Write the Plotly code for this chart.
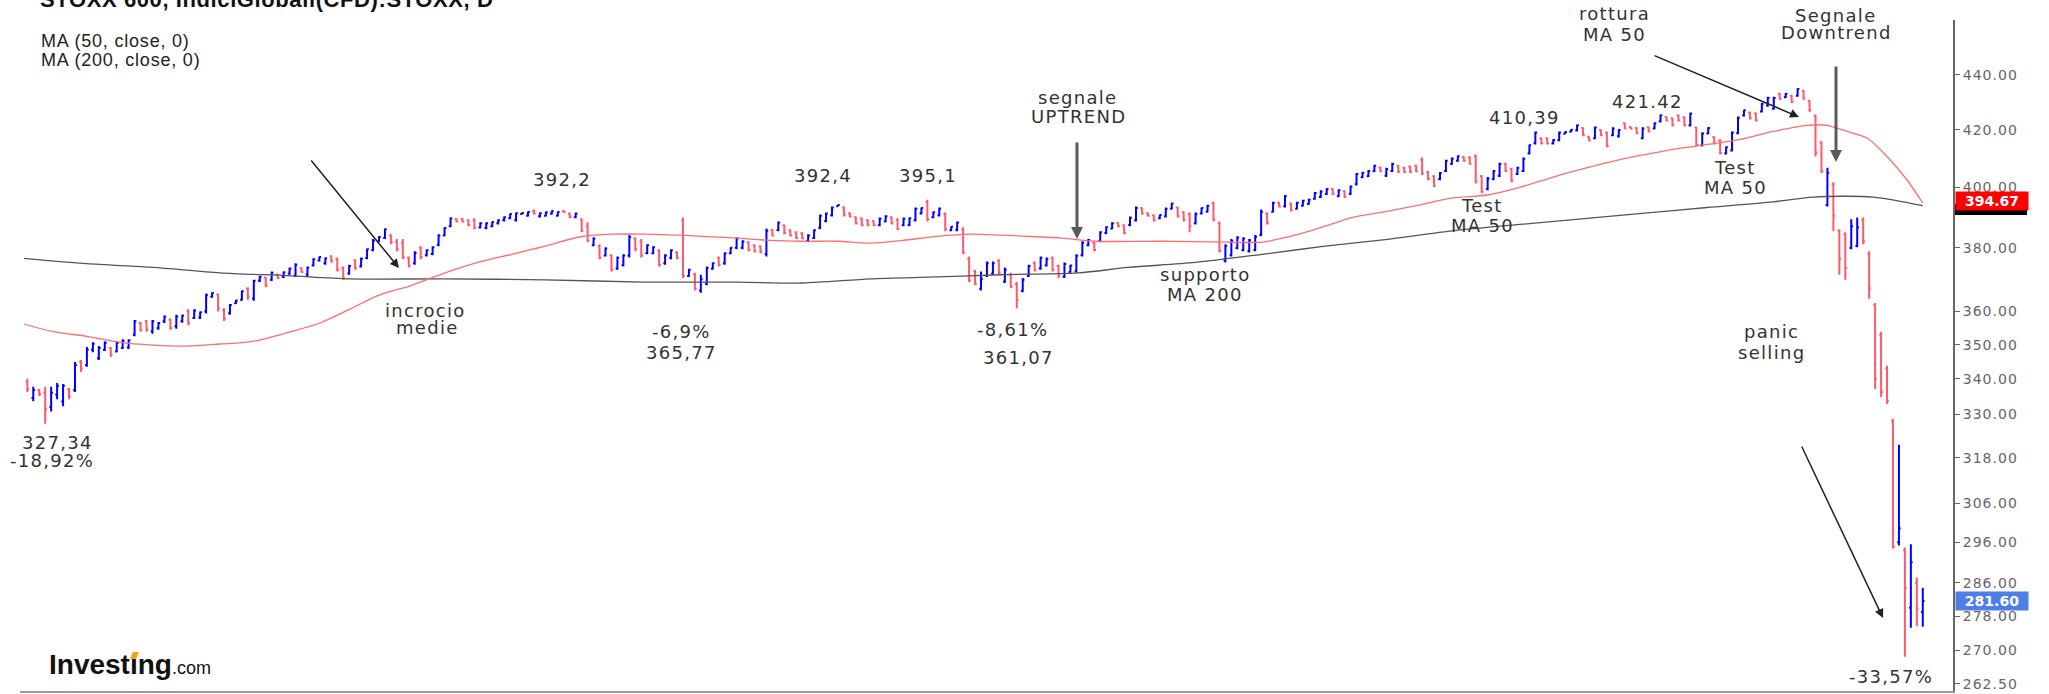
import math
import plotly.graph_objects as go

# ---------------- data ----------------
opens = [339.2,334.5,336.8,336.0,332.0,335.5,333.5,337.0,336.8,345.0,
344.0,348.5,346.0,348.5,349.0,348.0,349.0,349.2,353.0,356.5,
357.0,354.0,355.0,357.0,357.5,355.5,357.0,360.2,358.0,358.2,
360.0,364.5,365.2,360.5,359.5,362.5,363.6,367.0,364.0,369.5,
370.5,369.8,371.5,370.8,371.7,371.2,373.5,371.5,374.3,375.9,
375.0,377.3,376.5,373.5,371.8,376.0,374.0,376.7,379.3,382.0,
383.2,384.0,382.0,381.5,376.8,375.0,380.0,377.6,378.0,381.0,
384.0,387.0,389.4,389.4,389.0,389.0,386.6,386.4,387.0,388.0,
389.0,389.6,389.0,391.0,390.5,392.0,390.3,390.5,391.1,390.5,
392.0,391.2,390.0,389.2,387.0,380.8,380.5,377.5,377.5,373.4,
374.4,377.5,383.0,382.0,378.3,378.2,379.0,375.0,376.7,378.5,
389.0,371.0,371.5,366.5,368.6,373.3,376.8,375.0,378.2,380.0,
380.0,381.8,380.8,380.5,378.0,385.8,385.8,387.3,385.7,385.0,
384.7,382.2,383.2,386.5,388.7,390.6,393.6,393.2,391.3,390.0,
389.6,389.0,388.7,387.3,388.6,390.0,389.2,387.3,387.4,389.0,
391.2,395.0,390.0,390.6,391.0,385.7,385.8,386.0,376.5,372.5,
367.0,371.2,371.8,375.8,369.3,371.5,368.5,366.3,371.0,375.2,
373.4,374.3,376.8,374.2,370.8,372.3,372.5,377.6,380.8,381.5,
382.2,384.8,386.3,388.1,387.3,387.4,389.0,393.0,391.3,390.6,
389.6,390.3,392.8,393.2,391.6,391.0,388.0,391.2,391.8,394.7,
388.0,375.8,377.6,379.9,379.3,378.9,379.3,384.2,391.2,391.8,
394.9,393.6,394.5,392.8,393.8,394.4,396.1,396.7,397.7,399.4,
397.0,398.7,397.8,401.0,403.4,403.8,405.5,406.8,403.9,405.6,
407.4,406.7,407.1,407.4,409.5,405.3,403.8,402.8,405.6,408.0,
409.1,410.4,410.3,410.8,403.8,399.4,402.8,403.9,408.1,406.3,
404.5,405.6,411.6,415.2,417.0,417.0,415.1,416.3,418.6,419.3,
419.8,420.6,417.5,417.0,419.9,419.0,418.1,417.7,422.3,421.0,
420.6,417.0,420.9,420.5,423.0,424.6,424.1,425.2,424.5,421.6,
420.8,414.5,418.7,417.4,416.2,411.6,412.7,418.8,425.1,426.2,
425.9,426.6,428.7,427.6,433.0,431.8,432.3,432.3,434.1,430.5,
425.0,415.5,394.0,401.0,385.5,384.5,380.0,380.6,389.0,378.0,
362.0,353.0,343.0,328.0,296.0,294.0,280.0,286.0,279.0]

highs = [340.0,337.7,337.1,337.7,337.7,338.8,338.5,337.4,344.9,345.5,
349.3,350.7,349.6,351.0,349.3,351.0,351.6,351.6,357.4,356.8,
357.4,357.4,356.8,358.8,357.9,359.0,359.0,360.7,360.7,360.0,
365.5,365.9,365.5,361.0,362.3,363.6,366.5,367.5,369.8,371.1,
370.7,372.4,371.7,372.4,373.7,375.0,373.7,374.0,376.6,377.2,
376.9,377.6,376.9,374.0,374.6,376.3,376.9,379.8,382.8,383.7,
386.3,384.4,382.8,382.8,377.2,378.9,380.5,379.5,380.5,384.4,
386.7,389.9,389.6,389.6,389.3,389.6,388.3,388.3,388.6,389.3,
390.2,391.2,391.5,391.5,391.9,392.5,391.5,391.9,392.2,391.9,
392.2,391.5,391.5,389.6,388.3,383.4,381.1,380.2,377.9,377.2,
377.9,384.1,383.4,382.8,381.1,380.5,379.5,377.9,379.5,378.9,
389.9,373.3,372.0,371.4,374.0,375.3,377.2,378.5,380.2,383.4,
382.4,382.1,381.1,380.8,386.3,386.0,388.6,387.6,386.0,385.4,
385.0,384.4,386.0,390.9,391.5,393.5,394.1,393.5,391.5,390.2,
389.9,389.3,388.9,389.9,390.6,390.2,389.6,389.9,389.9,393.2,
393.2,395.8,391.9,393.2,391.5,387.0,388.6,386.7,377.2,373.0,
372.4,375.6,375.6,376.3,373.7,372.0,369.1,370.4,374.6,375.6,
377.2,376.9,377.2,374.6,375.3,374.6,377.9,382.1,382.8,381.8,
385.4,387.0,388.3,388.3,387.6,390.2,393.5,393.2,391.5,390.9,
390.9,393.2,394.8,393.5,391.9,391.5,391.5,393.2,394.1,395.1,
388.6,381.1,382.8,383.7,383.4,382.8,384.1,392.5,391.5,395.1,
395.1,397.4,394.8,395.1,395.8,396.1,398.4,399.0,399.7,399.7,
399.3,399.0,400.6,404.9,405.2,405.9,407.7,407.0,406.7,408.4,
407.7,407.0,407.4,407.7,410.2,405.6,404.2,405.2,409.5,410.2,
410.9,410.6,410.6,411.3,404.2,403.5,405.9,408.4,408.4,406.7,
407.0,410.2,414.8,419.4,417.3,417.3,416.6,419.4,419.4,420.2,
421.9,420.9,417.7,421.2,420.2,419.4,420.9,420.2,422.6,421.2,
420.9,420.9,421.2,422.6,425.5,424.8,424.4,425.5,424.8,426.2,
421.2,419.1,420.9,417.7,416.6,414.1,419.4,424.8,427.2,426.5,
426.2,429.7,431.9,431.9,433.3,433.3,432.6,435.1,434.4,430.8,
425.5,415.9,406.7,401.7,386.0,385.0,389.3,389.9,389.9,378.9,
362.6,353.9,343.8,328.7,321.5,294.7,295.5,287.3,284.8]

lows = [336.2,333.6,335.1,327.3,330.7,334.2,332.2,334.2,336.2,342.0,
343.5,347.8,345.5,348.1,346.4,347.8,348.7,348.7,352.5,353.9,
353.9,353.3,354.5,356.5,354.5,354.8,356.6,355.8,357.7,357.7,
359.4,364.2,360.0,357.1,359.0,362.3,363.3,363.6,363.3,369.1,
367.5,369.4,370.1,370.4,371.4,370.7,372.0,370.7,374.0,375.6,
374.6,375.3,372.4,369.8,371.4,373.0,373.7,376.3,378.9,381.8,
382.8,381.1,378.9,376.3,373.7,374.6,376.3,377.2,377.6,380.5,
383.7,386.7,388.3,388.3,387.0,386.0,386.3,386.0,386.7,387.6,
388.6,389.3,388.6,390.9,390.2,390.9,389.9,390.2,390.9,390.2,
391.5,389.6,389.6,385.0,381.8,380.5,376.3,377.2,372.4,373.0,
374.0,376.9,378.9,376.9,377.9,377.9,374.0,374.6,376.3,376.3,
370.4,370.7,366.5,365.8,368.1,373.0,374.0,374.6,377.9,379.5,
379.5,378.9,378.5,378.2,377.2,383.7,385.4,384.4,383.7,382.8,
382.8,381.8,382.8,386.0,388.3,390.2,393.5,390.2,389.9,387.6,
387.0,387.0,387.0,387.0,388.3,387.6,385.7,387.0,387.0,388.6,
390.9,388.6,389.6,390.2,385.4,385.4,385.4,377.9,369.1,368.1,
366.5,370.7,371.4,371.4,368.8,367.2,361.0,365.9,370.7,372.4,
373.0,374.0,372.4,370.4,370.4,372.0,372.0,377.2,380.5,378.9,
381.8,384.4,386.0,386.7,384.4,387.0,388.6,390.9,390.2,388.6,
389.3,389.9,392.5,389.9,388.6,385.0,387.6,390.9,391.5,388.6,
378.5,375.3,377.2,379.5,378.9,378.5,378.9,383.7,387.6,391.5,
393.2,393.2,391.9,392.5,393.5,394.1,395.8,396.4,397.4,397.4,
396.7,396.4,397.4,400.6,403.1,403.5,405.2,405.2,403.5,405.2,
404.9,404.9,404.9,405.2,404.2,402.4,400.0,402.4,405.2,407.7,
408.8,408.8,407.7,401.3,398.0,399.0,402.4,403.5,405.2,401.7,
404.2,405.2,411.3,414.8,414.8,414.8,414.8,415.9,418.4,419.1,
419.4,417.7,415.9,416.6,417.7,413.8,417.7,417.3,420.2,420.2,
418.4,416.6,419.1,420.2,422.6,423.0,421.2,423.0,421.2,421.2,
414.1,414.1,418.4,414.8,411.3,411.3,412.3,418.4,424.8,423.7,
423.0,426.2,428.3,427.2,430.8,431.5,429.7,431.9,430.8,426.5,
410.6,404.9,393.5,385.4,371.4,369.8,379.5,380.2,381.1,363.9,
337.1,334.8,332.8,294.4,295.2,268.6,275.3,275.7,275.5]

closes = [337.1,336.8,335.6,331.5,336.0,338.0,338.0,335.0,344.0,343.0,
348.5,350.3,349.0,350.5,347.0,350.5,351.2,351.3,357.0,354.5,
354.5,357.0,356.5,358.5,355.0,358.5,358.8,356.5,360.3,359.8,
365.0,365.7,361.0,357.8,362.0,363.4,366.2,364.5,369.5,370.8,
368.0,372.0,370.4,372.2,373.4,374.6,372.3,373.7,376.3,377.0,
376.6,375.7,373.0,370.3,374.2,373.5,376.5,379.5,382.3,383.5,
386.0,381.8,379.5,377.0,374.3,378.3,377.0,379.2,380.2,384.0,
386.4,389.6,388.6,388.5,387.4,386.5,388.0,388.0,388.4,389.0,
390.0,391.0,391.3,391.4,391.7,391.2,391.3,391.6,392.0,391.7,
391.6,390.0,391.2,385.6,382.3,383.0,376.8,379.8,373.0,376.8,
377.5,383.5,379.5,377.5,380.8,380.2,374.6,377.5,379.2,376.8,
371.0,373.0,367.0,370.0,373.5,375.0,374.5,378.2,380.0,383.0,
382.0,379.3,378.9,378.6,385.5,384.0,388.2,384.8,384.0,383.2,
383.0,384.0,385.7,390.5,391.2,393.2,394.0,390.6,390.2,388.0,
387.4,387.3,387.3,389.5,390.3,388.0,386.2,389.5,389.6,392.8,
393.0,389.3,391.6,392.9,386.0,386.8,388.2,378.5,369.6,368.6,
370.0,375.0,375.0,372.0,373.0,367.7,363.5,369.8,374.2,372.8,
376.8,376.5,373.0,371.0,374.8,374.3,377.4,381.6,382.5,379.3,
385.0,386.7,388.0,387.0,384.8,389.8,393.0,391.2,390.5,389.0,
390.7,392.8,394.5,390.3,389.0,387.0,391.0,393.0,393.8,389.2,
379.0,380.6,382.3,383.3,383.0,382.4,383.6,391.8,388.0,394.8,
393.5,397.0,392.3,394.8,395.5,395.8,398.1,398.6,399.4,397.8,
399.0,396.8,400.3,404.5,405.0,405.6,407.4,405.5,406.3,408.0,
405.3,405.2,405.2,405.5,404.8,402.8,400.5,404.9,409.1,409.9,
410.7,409.1,408.1,402.0,398.6,403.0,405.5,408.0,405.6,402.3,
406.7,409.8,414.5,419.0,415.2,415.1,416.4,419.0,419.2,420.0,
421.6,418.1,416.2,420.8,418.1,414.3,420.5,419.9,420.5,420.4,
418.8,420.5,419.4,422.3,425.2,423.3,421.6,423.3,421.6,425.8,
414.6,418.7,420.6,415.2,411.8,413.8,419.0,424.3,427.0,424.1,
423.4,429.4,431.5,431.5,431.1,433.0,430.1,434.8,431.2,427.0,
412.0,405.5,405.0,390.5,376.5,373.5,387.0,386.7,382.0,367.2,
340.0,336.2,333.7,294.8,299.5,284.7,291.0,279.8,281.6]

bar_x = list(range(len(closes)))

ma50_x = [-0.55, 4.3, 10.0, 15.6, 21.1, 26.8, 32.3, 37.9, 43.6, 49.1, 54.1, 58.8,
          64.5, 70.1, 75.6, 81.3, 86.9, 92.4, 98.1, 103.6, 113.4, 119.1, 124.6,
          130.1, 135.9, 141.4, 146.9, 152.6, 158.2, 163.2, 167.9, 173.6, 179.1,
          190.4, 201.5, 207.2, 209.8, 212.7, 217.7, 222.4, 228.1, 233.7, 239.2,
          244.9, 250.4, 256.0, 261.7, 267.2, 272.3, 276.1, 281.8, 287.4, 292.9,
          298.6, 302.0, 305.3, 308.7, 312.0, 315.4, 318.0]
ma50_y = [356.2, 353.9, 352.5, 350.7, 349.9, 349.6, 350.2, 351.0, 353.6, 356.5, 360.7,
          364.9, 368.1, 372.0, 375.3, 377.9, 380.5, 383.4, 384.4, 384.4, 383.7, 383.1,
          382.4, 382.1, 382.1, 381.5, 382.4, 383.7, 384.4, 384.1, 383.7, 383.1, 382.1,
          382.1, 381.8, 381.8, 382.8, 384.1, 387.0, 389.9, 391.9, 394.1, 396.4, 397.4,
          400.0, 403.5, 406.7, 409.5, 411.6, 413.1, 414.8, 416.6, 419.4, 421.6, 421.6,
          419.4, 417.0, 410.6, 402.4, 394.7]

ma200_x = [-0.55, 10.0, 21.1, 32.3, 43.6, 54.1, 70.1, 86.9, 103.6, 119.1, 130.1, 141.4,
           152.6, 163.2, 176.3, 184.7, 195.9, 207.2, 217.7, 228.6, 238.7, 250.4, 272.3,
           281.8, 292.9, 299.6, 309.7, 318.0]
ma200_y = [376.6, 374.9, 373.7, 372.0, 371.1, 370.1, 370.1, 369.8, 369.1, 369.1, 368.8,
           370.1, 370.7, 371.4, 372.0, 373.7, 375.3, 377.9, 380.5, 382.8, 385.4, 387.6,
           391.5, 393.2, 395.1, 396.7, 396.7, 393.8]

tick_vals = [262.5, 270, 278, 286, 296, 306, 318, 330, 340, 350, 360, 380, 400, 420, 440]
tick_text = [f'<span style="letter-spacing:1px">{v:.2f}</span>' for v in tick_vals]

ma50_last = "394.67"
last_close = "281.60"

# ---------------- layout helpers ----------------
W, H = 2049, 694
PL, PR, PT, PB = 20, 1953, 20, 691


def px(x):
    return (x - PL) / (PR - PL)


def py(y):
    return (PB - y) / (PB - PT)


ANN_FONT = dict(family="DejaVu Sans", size=18, color="#333333")


def wide(t, ls=1.3):
    return f'<span style="letter-spacing:{ls}px">{t}</span>'


fig = go.Figure()

fig.add_trace(go.Scatter(x=ma200_x, y=ma200_y, mode="lines",
                         line=dict(color="#555555", width=1.3, shape="spline", smoothing=0.8),
                         hoverinfo="skip", showlegend=False))
fig.add_trace(go.Scatter(x=ma50_x, y=ma50_y, mode="lines",
                         line=dict(color="#ff6e6e", width=1.3, shape="spline", smoothing=0.8),
                         hoverinfo="skip", showlegend=False))
fig.add_trace(go.Ohlc(x=bar_x, open=opens, high=highs, low=lows, close=closes,
                      increasing=dict(line=dict(color="#0000ff", width=2)),
                      decreasing=dict(line=dict(color="#ff5a6c", width=2)),
                      tickwidth=0.3, showlegend=False, hoverinfo="skip"))

annotations = []

# title (partially cut at top) and MA labels
annotations.append(dict(xref="paper", yref="paper", x=px(38), y=py(0), xanchor="left", yanchor="middle",
                        text='<b><span style="letter-spacing:0.6px">STOXX 600, IndiciGlobali(CFD):STOXX, D</span></b>',
                        showarrow=False,
                        font=dict(family="Liberation Sans", size=22, color="#111111")))
annotations.append(dict(xref="paper", yref="paper", x=px(39), y=py(41), xanchor="left", yanchor="middle",
                        text=wide("MA (50, close, 0)", 0.8), showarrow=False,
                        font=dict(family="Liberation Sans", size=18, color="#222222")))
annotations.append(dict(xref="paper", yref="paper", x=px(39), y=py(60), xanchor="left", yanchor="middle",
                        text=wide("MA (200, close, 0)", 0.8), showarrow=False,
                        font=dict(family="Liberation Sans", size=18, color="#222222")))

texts = [
    ("327,34", 57, 442), ("-18,92%", 52, 460),
    ("incrocio", 425, 310), ("medie", 427, 328),
    ("392,2", 562, 180),
    ("-6,9%", 681, 331), ("365,77", 681, 352),
    ("392,4", 823, 175), ("395,1", 928, 175),
    ("segnale", 1078, 98), ("UPTREND", 1078, 116),
    ("-8,61%", 1013, 329), ("361,07", 1019, 357),
    ("supporto", 1205, 274), ("MA 200", 1205, 294),
    ("410,39", 1524, 118),
    ("Test", 1482, 205), ("MA 50", 1482, 225),
    ("421.42", 1647, 101),
    ("rottura", 1614, 14), ("MA 50", 1614, 34),
    ("Segnale", 1836, 16), ("Downtrend", 1836, 33),
    ("Test", 1735, 167), ("MA 50", 1735, 187),
    ("panic", 1771, 332), ("selling", 1771, 352),
    ("-33,57%", 1891, 676),
]
for t, x, y in texts:
    annotations.append(dict(xref="paper", yref="paper", x=px(x), y=py(y), xanchor="center",
                            yanchor="middle", text=wide(t), showarrow=False, font=ANN_FONT))

# arrows: (tail_x, tail_y, tip_x, tip_y, colour, width)
arrows = [
    (310, 159, 399, 268, "#222222", 1.5),
    (1077, 141, 1077, 239, "#5a5a5a", 3),
    (1653, 55, 1799, 117, "#222222", 1.5),
    (1836, 65, 1836, 162, "#5a5a5a", 3),
    (1801, 445, 1883, 618, "#222222", 1.5),
]
for tx, ty, hx, hy, c, w in arrows:
    annotations.append(dict(xref="paper", yref="paper", x=px(hx), y=py(hy),
                            ax=tx - hx, ay=ty - hy, axref="pixel", ayref="pixel",
                            showarrow=True, arrowhead=2, arrowsize=1.2 if w < 2 else 0.8,
                            arrowwidth=w, arrowcolor=c, text="", standoff=0))

# value boxes on the axis
annotations.append(dict(xref="paper", yref="paper", x=px(1955), y=py(201), xanchor="left", yanchor="middle",
                        text="<b>" + ma50_last + "</b>", showarrow=False, bgcolor="#ff0000",
                        font=dict(family="DejaVu Sans", size=14, color="white"), borderpad=1, width=70))
annotations.append(dict(xref="paper", yref="paper", x=px(1955), y=py(601), xanchor="left", yanchor="middle",
                        text="<b>" + last_close + "</b>", showarrow=False, bgcolor="#4f7fe6",
                        font=dict(family="DejaVu Sans", size=14, color="white"), borderpad=1, width=70))

# Investing.com logo (dotless i, orange accent drawn as a shape)
annotations.append(dict(xref="paper", yref="paper", x=px(47), y=py(664), xanchor="left", yanchor="middle",
                        text='<b>Invest\u0131ng</b><span style="font-size:18px">.com</span>', showarrow=False,
                        font=dict(family="Liberation Sans", size=28, color="#111111")))

shapes = [
    dict(type="rect", xref="paper", yref="paper", x0=px(1955), x1=px(2027), y0=py(215), y1=py(204),
         fillcolor="black", line=dict(width=0), layer="above"),
    dict(type="line", xref="x", yref="y", x0=131.8, x1=208.2,
         y0=math.log10(396.4), y1=math.log10(396.4), line=dict(color="#222222", width=1.5)),
    dict(type="line", xref="x", yref="y", x0=158.2, x1=316.1,
         y0=math.log10(360.7), y1=math.log10(363.3), line=dict(color="#222222", width=1.5)),
    dict(type="path", xref="paper", yref="paper",
         path=f"M {px(130)} {py(659)} L {px(136)} {py(659)} L {px(139)} {py(652)} L {px(133)} {py(652)} Z",
         fillcolor="#f6a01a", line=dict(width=0), layer="above"),
]

fig.update_layout(
    width=W, height=H, autosize=False,
    margin=dict(l=PL, r=W - PR, t=PT, b=H - PB),
    paper_bgcolor="white", plot_bgcolor="white",
    showlegend=False,
    annotations=annotations, shapes=shapes,
    xaxis=dict(range=[-1.225, 323.07], showgrid=False, zeroline=False, showticklabels=False,
               showline=True, linecolor="#999999", linewidth=2, ticks="",
               rangeslider=dict(visible=False)),
    yaxis=dict(type="log", range=[math.log10(260.9), math.log10(461.0)], side="right",
               tickvals=tick_vals, ticktext=tick_text, ticks="outside", ticklen=5,
               tickcolor="#666666", showgrid=False, zeroline=False,
               showline=True, linecolor="#666666", linewidth=2,
               tickfont=dict(family="DejaVu Sans", size=14, color="#666666")),
)

fig.write_html("out.html", config={"displayModeBar": False},
               post_script="document.body.style.margin='0';document.body.style.overflow='hidden';")
